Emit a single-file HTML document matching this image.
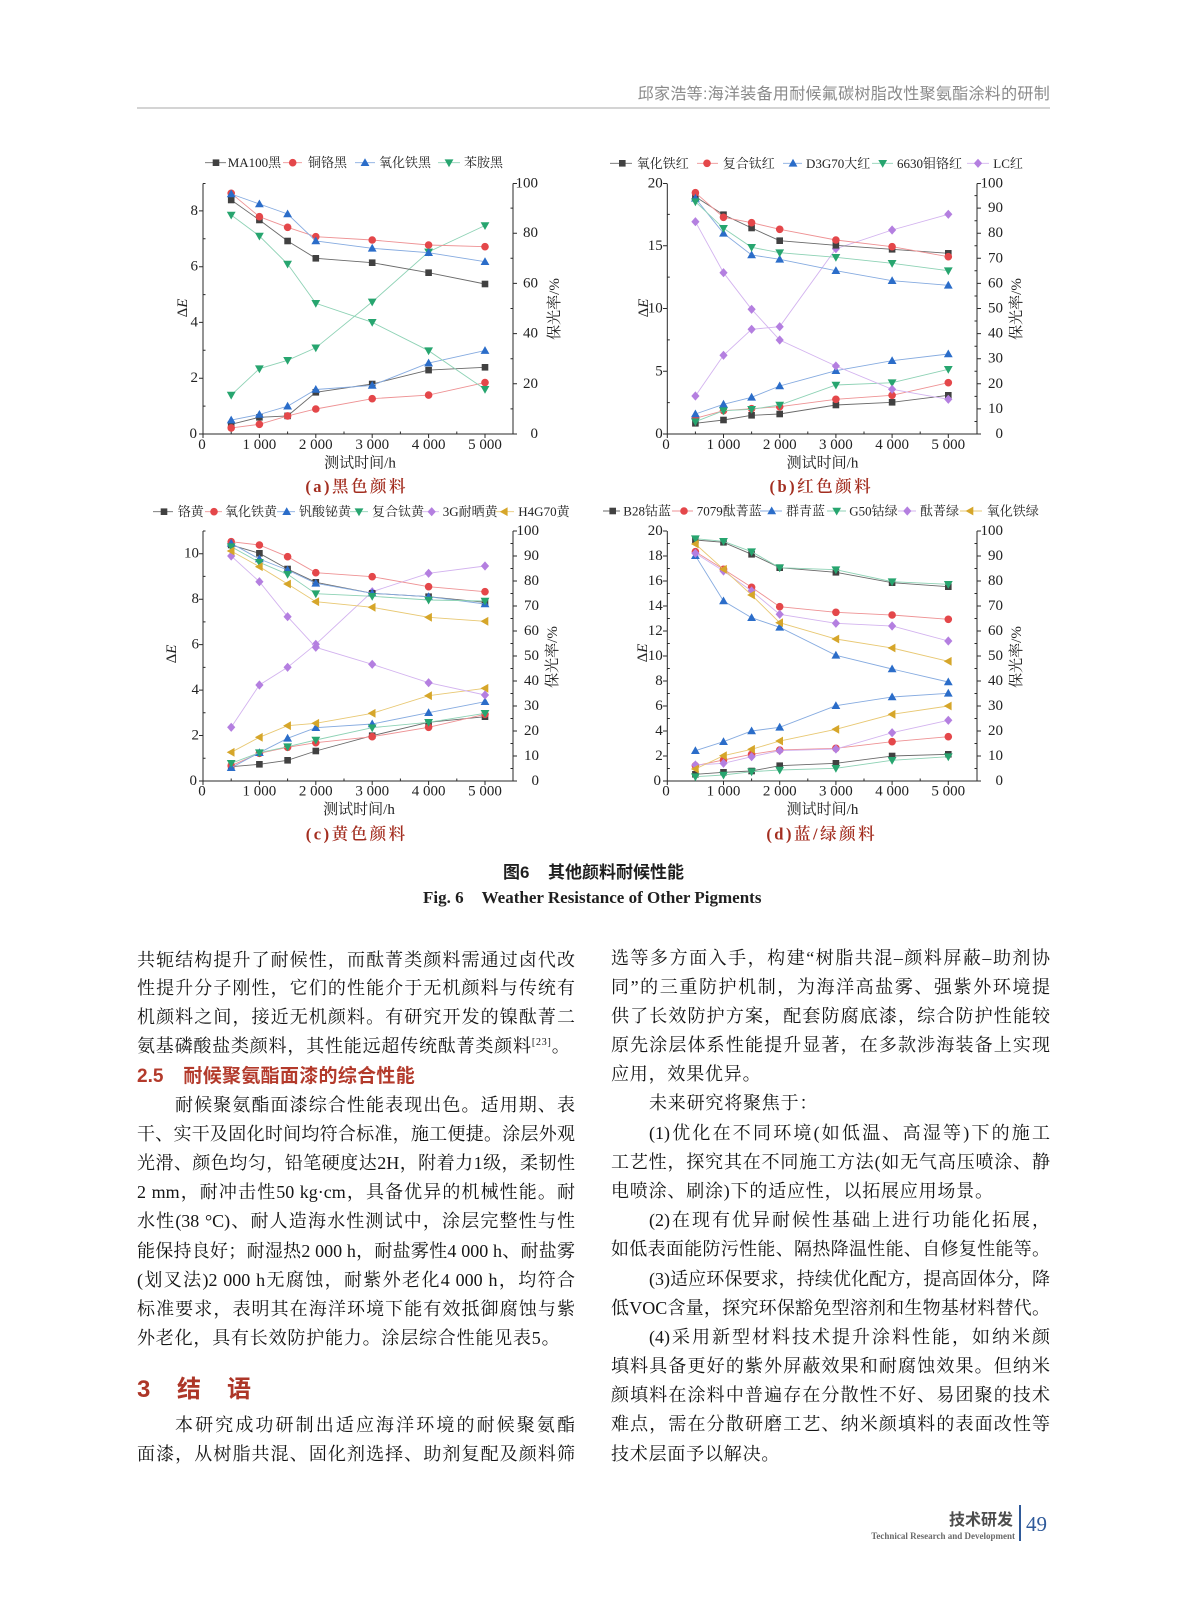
<!DOCTYPE html>
<html><head><meta charset="utf-8"><style>
html,body{margin:0;padding:0;background:#fff}
body{width:1187px;height:1600px;position:relative;overflow:hidden}
.hd{position:absolute;right:137px;top:83px;font-family:"Liberation Sans","Noto Sans CJK SC",sans-serif;font-size:16px;letter-spacing:0.3px;color:#8a8a8a;line-height:24px;white-space:nowrap}
.hl{position:absolute;left:137px;top:106.5px;width:913px;height:2px;background:#d4d4d4}
.t{position:absolute;font-family:"Liberation Serif","Noto Serif CJK SC",serif;font-size:18px;line-height:29px;height:29px;color:#141414}
.L{left:137px;width:438px}
.R{left:611px;width:439px}
.j{text-align:justify;text-align-last:justify}
.n{white-space:nowrap;letter-spacing:0.8px}
.ind{padding-left:38px;box-sizing:border-box}
.h25{position:absolute;left:137px;font-family:"Liberation Sans","Noto Sans CJK SC",sans-serif;font-weight:bold;font-size:19px;color:#b33a2b;line-height:29px;white-space:nowrap}
.h3{position:absolute;font-family:"Liberation Sans","Noto Sans CJK SC",sans-serif;font-weight:bold;font-size:24px;color:#ad3628;line-height:30px;white-space:nowrap}
.cap1{position:absolute;left:503px;top:861px;font-family:"Liberation Sans","Noto Sans CJK SC",sans-serif;font-weight:bold;font-size:17px;color:#1f1f1f;line-height:24px;white-space:nowrap}
.cap2{position:absolute;left:423px;top:886px;font-family:"Liberation Serif",serif;font-weight:bold;font-size:17px;color:#1f1f1f;line-height:24px;white-space:nowrap}
sup{font-size:10px;vertical-align:7px;line-height:0}
</style></head><body>

<div class="hd">邱家浩等:海洋装备用耐候氟碳树脂改性聚氨酯涂料的研制</div>
<div class="hl"></div>

<svg width="1187" height="860" style="position:absolute;left:0;top:0" xmlns="http://www.w3.org/2000/svg">
<defs>
<marker id="mK" viewBox="-5 -5 10 10" markerWidth="10" markerHeight="10" markerUnits="userSpaceOnUse" orient="0"><rect x="-3.3" y="-3.3" width="6.6" height="6.6" fill="#414141"/></marker>
<marker id="mR" viewBox="-5 -5 10 10" markerWidth="10" markerHeight="10" markerUnits="userSpaceOnUse" orient="0"><circle r="3.8" fill="#e4474a"/></marker>
<marker id="mB" viewBox="-5 -5 10 10" markerWidth="10" markerHeight="10" markerUnits="userSpaceOnUse" orient="0"><polygon points="0,-4.5 4.4,3.3 -4.4,3.3" fill="#2b6dc9"/></marker>
<marker id="mG" viewBox="-5 -5 10 10" markerWidth="10" markerHeight="10" markerUnits="userSpaceOnUse" orient="0"><polygon points="0,4.5 4.4,-3.3 -4.4,-3.3" fill="#27a56f"/></marker>
<marker id="mP" viewBox="-5 -5 10 10" markerWidth="10" markerHeight="10" markerUnits="userSpaceOnUse" orient="0"><polygon points="0,-4.6 4.1,0 0,4.6 -4.1,0" fill="#b47fe0"/></marker>
<marker id="mY" viewBox="-5 -5 10 10" markerWidth="10" markerHeight="10" markerUnits="userSpaceOnUse" orient="0"><polygon points="-4.5,0 3.3,-4.4 3.3,4.4" fill="#d6a62a"/></marker>
</defs>
<style>
polyline{fill:none;stroke-width:0.9}
.k{stroke:#6a6a6a;marker-start:url(#mK);marker-mid:url(#mK);marker-end:url(#mK)}
.r{stroke:#ee9294;marker-start:url(#mR);marker-mid:url(#mR);marker-end:url(#mR)}
.b{stroke:#86abe0;marker-start:url(#mB);marker-mid:url(#mB);marker-end:url(#mB)}
.g{stroke:#8ed2b5;marker-start:url(#mG);marker-mid:url(#mG);marker-end:url(#mG)}
.p{stroke:#d3b3ef;marker-start:url(#mP);marker-mid:url(#mP);marker-end:url(#mP)}
.y{stroke:#e8c873;marker-start:url(#mY);marker-mid:url(#mY);marker-end:url(#mY)}
.lg{marker-start:none;marker-end:none}
.ax{stroke:#2a2a2a;stroke-width:1;fill:none}
text{font-family:"Liberation Serif","Noto Serif CJK SC",serif;fill:#222}
.tk{font-size:15px;dominant-baseline:central}
.te{text-anchor:end}
.tm{text-anchor:middle}
.lt{font-size:13px;dominant-baseline:central}
.at{font-size:15px;dominant-baseline:central;text-anchor:middle}
.sub{font-size:16.5px;fill:#a32e20;font-weight:600;text-anchor:middle;dominant-baseline:central;letter-spacing:2.5px}
</style>

<!-- ===== Chart a ===== -->
<g>
<polyline class="k lg" points="205,162.7 216,162.7 226,162.7"/>
<text class="lt" x="227.7" y="162.7">MA100黑</text>
<polyline class="r lg" points="283,162.7 292.7,162.7 302,162.7"/>
<text class="lt" x="308" y="162.7">铜铬黑</text>
<polyline class="b lg" points="355,162.7 365,162.7 375,162.7"/>
<text class="lt" x="379" y="162.7">氧化铁黑</text>
<polyline class="g lg" points="438,162.7 449,162.7 460,162.7"/>
<text class="lt" x="464" y="162.7">苯胺黑</text>

<path class="ax" d="M203 183.5V434H513V183.5"/>
<path class="ax" d="M199 434h4M199 378.2h4M199 322.4h4M199 266.7h4M199 210.9h4M203 406.1h2.5M203 350.3h2.5M203 294.6h2.5M203 238.8h2.5M203 183.5h2.5M513 434h4M513 383.8h4M513 333.6h4M513 283.4h4M513 233.2h4M513 183.5h4M510.5 408.9h2.5M510.5 358.7h2.5M510.5 308.5h2.5M510.5 258.3h2.5M510.5 208.1h2.5M203 434v4M259.4 434v4M315.8 434v4M372.2 434v4M428.6 434v4M485 434v4M231.2 431.5v2.5M287.6 431.5v2.5M344 431.5v2.5M400.4 431.5v2.5M456.8 431.5v2.5"/>
<text class="tk te" x="197" y="434">0</text>
<text class="tk te" x="198" y="378.2">2</text>
<text class="tk te" x="198" y="322.4">4</text>
<text class="tk te" x="198" y="266.7">6</text>
<text class="tk te" x="198" y="210.9">8</text>
<text class="tk te" x="538" y="434">0</text>
<text class="tk te" x="538" y="383.8">20</text>
<text class="tk te" x="538" y="333.6">40</text>
<text class="tk te" x="538" y="283.4">60</text>
<text class="tk te" x="538" y="233.2">80</text>
<text class="tk te" x="538" y="183.5">100</text>
<text class="tk tm" x="202" y="445">0</text>
<text class="tk tm" x="259.4" y="445">1 000</text>
<text class="tk tm" x="315.8" y="445">2 000</text>
<text class="tk tm" x="372.2" y="445">3 000</text>
<text class="tk tm" x="428.6" y="445">4 000</text>
<text class="tk tm" x="485" y="445">5 000</text>
<text class="at" transform="translate(183,308) rotate(-90)" font-size="16">Δ<tspan font-style="italic">E</tspan></text>
<text class="at" transform="translate(555,309) rotate(-90)">保光率/%</text>
<text class="at" x="360" y="463.3">测试时间/h</text>
<text class="sub" x="356.7" y="486.7">(a)黑色颜料</text>

<polyline class="k" points="231.2,424.3 259.4,417.3 287.6,415.9 315.8,392.3 372.2,384 428.6,370.1 485,367.3"/>
<polyline class="r" points="231.2,427.9 259.4,424.3 287.6,415.9 315.8,409 372.2,398.7 428.6,395.1 485,382.6"/>
<polyline class="b" points="231.2,420.1 259.4,414.5 287.6,406.2 315.8,389.5 372.2,385.4 428.6,363.1 485,350.6"/>
<polyline class="g" points="231.2,395.1 259.4,368.7 287.6,360.3 315.8,347.8 372.2,301.9 428.6,251.9 485,225.5"/>
<polyline class="k" points="231.2,200 259.4,220 287.6,241 315.8,258.3 372.2,262.7 428.6,272.7 485,284"/>
<polyline class="r" points="231.2,193.3 259.4,216.7 287.6,227.3 315.8,236.7 372.2,240 428.6,245 485,246.7"/>
<polyline class="b" points="231.2,194 259.4,204 287.6,214 315.8,241 372.2,248.3 428.6,252.7 485,261.7"/>
<polyline class="g" points="231.2,215 259.4,236 287.6,264 315.8,303.3 372.2,322.3 428.6,350.7 485,389.3"/>
</g>

<!-- ===== Chart b ===== -->
<g>
<polyline class="k lg" points="610,163.3 622.3,163.3 632,163.3"/>
<text class="lt" x="636.7" y="163.3">氧化铁红</text>
<polyline class="r lg" points="697,163.3 707,163.3 718,163.3"/>
<text class="lt" x="722.7" y="163.3">复合钛红</text>
<polyline class="b lg" points="783,163.3 793,163.3 802,163.3"/>
<text class="lt" x="806" y="163.3">D3G70大红</text>
<polyline class="g lg" points="872,163.3 882.7,163.3 893,163.3"/>
<text class="lt" x="897" y="163.3">6630钼铬红</text>
<polyline class="p lg" points="967,163.3 978,163.3 989,163.3"/>
<text class="lt" x="993.3" y="163.3">LC红</text>

<path class="ax" d="M667.3 183.5V434H977V183.5"/>
<path class="ax" d="M663 434h4M663 371.3h4M663 308.5h4M663 245.8h4M663 183.5h4M667.3 402.6h2.5M667.3 339.9h2.5M667.3 277.1h2.5M667.3 214.4h2.5M977 434h4M977 408.9h4M977 383.8h4M977 358.7h4M977 333.6h4M977 308.5h4M977 283.4h4M977 258.3h4M977 233.2h4M977 208.1h4M977 183.5h4M974.5 421.5h2.5M974.5 396.4h2.5M974.5 371.3h2.5M974.5 346.2h2.5M974.5 321h2.5M974.5 296h2.5M974.5 270.8h2.5M974.5 245.8h2.5M974.5 220.7h2.5M974.5 195.6h2.5M667.3 434v4M723.5 434v4M779.7 434v4M835.9 434v4M892.1 434v4M948.3 434v4M695.4 431.5v2.5M751.6 431.5v2.5M807.8 431.5v2.5M864 431.5v2.5M920.2 431.5v2.5"/>
<text class="tk te" x="662.7" y="434">0</text>
<text class="tk te" x="662.7" y="371.3">5</text>
<text class="tk te" x="662.7" y="308.5">10</text>
<text class="tk te" x="662.7" y="245.8">15</text>
<text class="tk te" x="662.7" y="183.5">20</text>
<text class="tk te" x="1003" y="434">0</text>
<text class="tk te" x="1003" y="408.9">10</text>
<text class="tk te" x="1003" y="383.8">20</text>
<text class="tk te" x="1003" y="358.7">30</text>
<text class="tk te" x="1003" y="333.6">40</text>
<text class="tk te" x="1003" y="308.5">50</text>
<text class="tk te" x="1003" y="283.4">60</text>
<text class="tk te" x="1003" y="258.3">70</text>
<text class="tk te" x="1003" y="233.2">80</text>
<text class="tk te" x="1003" y="208.1">90</text>
<text class="tk te" x="1003" y="183.5">100</text>
<text class="tk tm" x="666" y="445">0</text>
<text class="tk tm" x="723.5" y="445">1 000</text>
<text class="tk tm" x="779.7" y="445">2 000</text>
<text class="tk tm" x="835.9" y="445">3 000</text>
<text class="tk tm" x="892.1" y="445">4 000</text>
<text class="tk tm" x="948.3" y="445">5 000</text>
<text class="at" transform="translate(644,308) rotate(-90)" font-size="16">Δ<tspan font-style="italic">E</tspan></text>
<text class="at" transform="translate(1017,309) rotate(-90)">保光率/%</text>
<text class="at" x="822.5" y="463.3">测试时间/h</text>
<text class="sub" x="821.3" y="486.7">(b)红色颜料</text>

<polyline class="k" points="695.4,423.3 723.5,420 751.6,415.3 779.7,414 835.9,405 892.1,402.3 948.3,395.3"/>
<polyline class="r" points="695.4,418.3 723.5,410.7 751.6,408.7 779.7,406.7 835.9,399.3 892.1,395.3 948.3,382.7"/>
<polyline class="b" points="695.4,414 723.5,404.3 751.6,397.3 779.7,386 835.9,370.7 892.1,360.7 948.3,354"/>
<polyline class="g" points="695.4,421.7 723.5,410.7 751.6,409.3 779.7,405 835.9,385 892.1,382.7 948.3,369.3"/>
<polyline class="p" points="695.4,396 723.5,355.3 751.6,329.3 779.7,326.7 835.9,248.7 892.1,230 948.3,214.3"/>
<polyline class="k" points="695.4,196.7 723.5,214.7 751.6,228 779.7,240.7 835.9,245.3 892.1,249.3 948.3,253.3"/>
<polyline class="r" points="695.4,192.7 723.5,217.3 751.6,222.7 779.7,229.3 835.9,240 892.1,246.7 948.3,256.7"/>
<polyline class="b" points="695.4,198.3 723.5,233.3 751.6,255 779.7,259.3 835.9,270.7 892.1,280.7 948.3,285.3"/>
<polyline class="g" points="695.4,201.7 723.5,228.3 751.6,247.3 779.7,252.7 835.9,257.3 892.1,263.3 948.3,270.7"/>
<polyline class="p" points="695.4,221.7 723.5,272.7 751.6,309.3 779.7,340 835.9,366 892.1,389.3 948.3,399.3"/>
</g>

<!-- ===== Chart c ===== -->
<g>
<polyline class="k lg" points="153,511.7 164,511.7 173,511.7"/>
<text class="lt" x="177.7" y="511.7">铬黄</text>
<polyline class="r lg" points="205,511.7 214,511.7 222,511.7"/>
<text class="lt" x="225" y="511.7">氧化铁黄</text>
<polyline class="b lg" points="277,511.7 286.7,511.7 295,511.7"/>
<text class="lt" x="299" y="511.7">钒酸铋黄</text>
<polyline class="g lg" points="350,511.7 359,511.7 368,511.7"/>
<text class="lt" x="372" y="511.7">复合钛黄</text>
<polyline class="p lg" points="422,511.7 431.7,511.7 439,511.7"/>
<text class="lt" x="442.7" y="511.7">3G耐晒黄</text>
<polyline class="y lg" points="495,511.7 504.3,511.7 514,511.7"/>
<text class="lt" x="518.3" y="511.7">H4G70黄</text>

<path class="ax" d="M203 531V781H513V531"/>
<path class="ax" d="M199 781h4M199 735.5h4M199 690.1h4M199 644.6h4M199 599.2h4M199 553.7h4M203 758.3h2.5M203 712.8h2.5M203 667.4h2.5M203 621.9h2.5M203 576.4h2.5M203 531h2.5M513 781h4M513 756h4M513 731h4M513 706h4M513 681h4M513 656h4M513 631h4M513 606h4M513 581h4M513 556h4M513 531h4M510.5 768.5h2.5M510.5 743.5h2.5M510.5 718.5h2.5M510.5 693.5h2.5M510.5 668.5h2.5M510.5 643.5h2.5M510.5 618.5h2.5M510.5 593.5h2.5M510.5 568.5h2.5M510.5 543.5h2.5M203 781v4M259.4 781v4M315.8 781v4M372.2 781v4M428.6 781v4M485 781v4M231.2 778.5v2.5M287.6 778.5v2.5M344 778.5v2.5M400.4 778.5v2.5M456.8 778.5v2.5"/>
<text class="tk te" x="197" y="781">0</text>
<text class="tk te" x="199" y="735.5">2</text>
<text class="tk te" x="199" y="690.1">4</text>
<text class="tk te" x="199" y="644.6">6</text>
<text class="tk te" x="199" y="599.2">8</text>
<text class="tk te" x="199" y="553.7">10</text>
<text class="tk te" x="539" y="781">0</text>
<text class="tk te" x="539" y="756">10</text>
<text class="tk te" x="539" y="731">20</text>
<text class="tk te" x="539" y="706">30</text>
<text class="tk te" x="539" y="681">40</text>
<text class="tk te" x="539" y="656">50</text>
<text class="tk te" x="539" y="631">60</text>
<text class="tk te" x="539" y="606">70</text>
<text class="tk te" x="539" y="581">80</text>
<text class="tk te" x="539" y="556">90</text>
<text class="tk te" x="539" y="531">100</text>
<text class="tk tm" x="202" y="791.7">0</text>
<text class="tk tm" x="259.4" y="791.7">1 000</text>
<text class="tk tm" x="315.8" y="791.7">2 000</text>
<text class="tk tm" x="372.2" y="791.7">3 000</text>
<text class="tk tm" x="428.6" y="791.7">4 000</text>
<text class="tk tm" x="485" y="791.7">5 000</text>
<text class="at" transform="translate(172,654) rotate(-90)" font-size="16">Δ<tspan font-style="italic">E</tspan></text>
<text class="at" transform="translate(553,657) rotate(-90)">保光率/%</text>
<text class="at" x="359" y="810">测试时间/h</text>
<text class="sub" x="356.7" y="834">(c)黄色颜料</text>

<polyline class="k" points="231.2,766.7 259.4,764.3 287.6,760.3 315.8,751 372.2,735.7 428.6,722.3 485,716.7"/>
<polyline class="r" points="231.2,765.7 259.4,753.3 287.6,747.3 315.8,742.7 372.2,736.7 428.6,727.3 485,714.3"/>
<polyline class="b" points="231.2,767.7 259.4,752.7 287.6,738.3 315.8,727.7 372.2,724 428.6,712.7 485,701.7"/>
<polyline class="g" points="231.2,763.3 259.4,752.7 287.6,746.7 315.8,740 372.2,727.7 428.6,722.3 485,713.3"/>
<polyline class="p" points="231.2,727.3 259.4,685 287.6,667.3 315.8,644.3 372.2,591.7 428.6,573.3 485,566"/>
<polyline class="y" points="231.2,752.3 259.4,737.3 287.6,725.7 315.8,723.3 372.2,713.3 428.6,695.7 485,688.3"/>
<polyline class="k" points="231.2,545 259.4,553.3 287.6,569 315.8,582.3 372.2,593.3 428.6,596.7 485,602.3"/>
<polyline class="r" points="231.2,541.7 259.4,545 287.6,556.7 315.8,572.7 372.2,576.7 428.6,586.7 485,591.7"/>
<polyline class="b" points="231.2,543.3 259.4,559 287.6,570 315.8,583.3 372.2,593.3 428.6,596.7 485,604"/>
<polyline class="g" points="231.2,546.7 259.4,562.3 287.6,574.3 315.8,593.7 372.2,596.3 428.6,600 485,601"/>
<polyline class="p" points="231.2,556 259.4,581.7 287.6,616.7 315.8,647.3 372.2,664.3 428.6,682.7 485,695"/>
<polyline class="y" points="231.2,551 259.4,566.7 287.6,584 315.8,601.7 372.2,607.3 428.6,617.3 485,621.3"/>
</g>

<!-- ===== Chart d ===== -->
<g>
<polyline class="k lg" points="603,511 612.7,511 620,511"/>
<text class="lt" x="623.3" y="511">B28钴蓝</text>
<polyline class="r lg" points="672,511 684,511 693,511"/>
<text class="lt" x="696.7" y="511">7079酞菁蓝</text>
<polyline class="b lg" points="760,511 771.7,511 782,511"/>
<text class="lt" x="786" y="511">群青蓝</text>
<polyline class="g lg" points="827,511 836.7,511 846,511"/>
<text class="lt" x="849.3" y="511">G50钴绿</text>
<polyline class="p lg" points="898,511 907.3,511 916,511"/>
<text class="lt" x="920" y="511">酞菁绿</text>
<polyline class="y lg" points="960,511 970,511 982,511"/>
<text class="lt" x="986.7" y="511">氧化铁绿</text>

<path class="ax" d="M667.3 531V781H977V531"/>
<path class="ax" d="M663 781h4M663 756h4M663 731h4M663 706h4M663 681h4M663 656h4M663 631h4M663 606h4M663 581h4M663 556h4M663 531h4M667.3 768.5h2.5M667.3 743.5h2.5M667.3 718.5h2.5M667.3 693.5h2.5M667.3 668.5h2.5M667.3 643.5h2.5M667.3 618.5h2.5M667.3 593.5h2.5M667.3 568.5h2.5M667.3 543.5h2.5M977 781h4M977 756h4M977 731h4M977 706h4M977 681h4M977 656h4M977 631h4M977 606h4M977 581h4M977 556h4M977 531h4M974.5 768.5h2.5M974.5 743.5h2.5M974.5 718.5h2.5M974.5 693.5h2.5M974.5 668.5h2.5M974.5 643.5h2.5M974.5 618.5h2.5M974.5 593.5h2.5M974.5 568.5h2.5M974.5 543.5h2.5M667.3 781v4M723.5 781v4M779.7 781v4M835.9 781v4M892.1 781v4M948.3 781v4M695.4 778.5v2.5M751.6 778.5v2.5M807.8 778.5v2.5M864 778.5v2.5M920.2 778.5v2.5"/>
<text class="tk te" x="661" y="781">0</text>
<text class="tk te" x="662.7" y="756">2</text>
<text class="tk te" x="662.7" y="731">4</text>
<text class="tk te" x="662.7" y="706">6</text>
<text class="tk te" x="662.7" y="681">8</text>
<text class="tk te" x="662.7" y="656">10</text>
<text class="tk te" x="662.7" y="631">12</text>
<text class="tk te" x="662.7" y="606">14</text>
<text class="tk te" x="662.7" y="581">16</text>
<text class="tk te" x="662.7" y="556">18</text>
<text class="tk te" x="662.7" y="531">20</text>
<text class="tk te" x="1003" y="781">0</text>
<text class="tk te" x="1003" y="756">10</text>
<text class="tk te" x="1003" y="731">20</text>
<text class="tk te" x="1003" y="706">30</text>
<text class="tk te" x="1003" y="681">40</text>
<text class="tk te" x="1003" y="656">50</text>
<text class="tk te" x="1003" y="631">60</text>
<text class="tk te" x="1003" y="606">70</text>
<text class="tk te" x="1003" y="581">80</text>
<text class="tk te" x="1003" y="556">90</text>
<text class="tk te" x="1003" y="531">100</text>
<text class="tk tm" x="666" y="791.7">0</text>
<text class="tk tm" x="723.5" y="791.7">1 000</text>
<text class="tk tm" x="779.7" y="791.7">2 000</text>
<text class="tk tm" x="835.9" y="791.7">3 000</text>
<text class="tk tm" x="892.1" y="791.7">4 000</text>
<text class="tk tm" x="948.3" y="791.7">5 000</text>
<text class="at" transform="translate(643,653) rotate(-90)" font-size="16">Δ<tspan font-style="italic">E</tspan></text>
<text class="at" transform="translate(1017,657) rotate(-90)">保光率/%</text>
<text class="at" x="822.5" y="810">测试时间/h</text>
<text class="sub" x="821.7" y="834">(d)蓝/绿颜料</text>

<polyline class="k" points="695.4,774.3 723.5,772.3 751.6,771 779.7,765.7 835.9,763.3 892.1,756 948.3,754.3"/>
<polyline class="r" points="695.4,765.7 723.5,760 751.6,754.3 779.7,750 835.9,748.3 892.1,741.7 948.3,736.7"/>
<polyline class="b" points="695.4,750.7 723.5,741.7 751.6,731 779.7,727.3 835.9,705.7 892.1,697 948.3,693.3"/>
<polyline class="g" points="695.4,776.7 723.5,775 751.6,771.7 779.7,770 835.9,768.3 892.1,760.3 948.3,756.7"/>
<polyline class="p" points="695.4,765 723.5,763.3 751.6,756.7 779.7,750.7 835.9,749 892.1,732.7 948.3,720.3"/>
<polyline class="y" points="695.4,769 723.5,755.7 751.6,749.3 779.7,741 835.9,729.3 892.1,714.3 948.3,706"/>
<polyline class="k" points="695.4,540 723.5,542.3 751.6,554.3 779.7,567.7 835.9,572.3 892.1,582.7 948.3,586.7"/>
<polyline class="r" points="695.4,551.7 723.5,569.3 751.6,587.3 779.7,606.7 835.9,612.3 892.1,615 948.3,619.3"/>
<polyline class="b" points="695.4,555.7 723.5,601 751.6,617.7 779.7,627.3 835.9,655.3 892.1,669 948.3,682"/>
<polyline class="g" points="695.4,538.7 723.5,541.3 751.6,551.7 779.7,567.7 835.9,569.7 892.1,581.7 948.3,584.3"/>
<polyline class="p" points="695.4,553.3 723.5,571 751.6,591 779.7,614.3 835.9,623.3 892.1,626 948.3,641"/>
<polyline class="y" points="695.4,544 723.5,569.3 751.6,595 779.7,622.7 835.9,639 892.1,648 948.3,661.3"/>
</g>
</svg>

<div class="cap1">图6<span style="display:inline-block;width:18.5px"></span>其他颜料耐候性能</div>
<div class="cap2">Fig. 6<span style="display:inline-block;width:18px"></span>Weather Resistance of Other Pigments</div>

<!-- Left column -->
<div class="t L j" style="top:945.5px">共轭结构提升了耐候性，而酞菁类颜料需通过卤代改</div>
<div class="t L j" style="top:974px">性提升分子刚性，它们的性能介于无机颜料与传统有</div>
<div class="t L j" style="top:1002.5px">机颜料之间，接近无机颜料。有研究开发的镍酞菁二</div>
<div class="t L n" style="top:1031.5px">氨基磷酸盐类颜料，其性能远超传统酞菁类颜料<sup>[23]</sup>。</div>
<div class="h25" style="top:1061.5px">2.5<span style="display:inline-block;width:20px"></span><span style="letter-spacing:0.3px">耐候聚氨酯面漆的综合性能</span></div>
<div class="t L j ind" style="top:1090.5px">耐候聚氨酯面漆综合性能表现出色。适用期、表</div>
<div class="t L j" style="top:1119.7px">干、实干及固化时间均符合标准，施工便捷。涂层外观</div>
<div class="t L j" style="top:1148.9px">光滑、颜色均匀，铅笔硬度达2H，附着力1级，柔韧性</div>
<div class="t L j" style="top:1178.1px">2 mm，耐冲击性50 kg·cm，具备优异的机械性能。耐</div>
<div class="t L j" style="top:1207.3px">水性(38 °C)、耐人造海水性测试中，涂层完整性与性</div>
<div class="t L j" style="top:1236.5px">能保持良好；耐湿热2 000 h，耐盐雾性4 000 h、耐盐雾</div>
<div class="t L j" style="top:1265.7px">(划叉法)2 000 h无腐蚀，耐紫外老化4 000 h，均符合</div>
<div class="t L j" style="top:1294.9px">标准要求，表明其在海洋环境下能有效抵御腐蚀与紫</div>
<div class="t L n" style="top:1324.1px">外老化，具有长效防护能力。涂层综合性能见表5。</div>
<div class="h3" style="left:137px;top:1375px">3</div>
<div class="h3" style="left:177px;top:1375px">结</div>
<div class="h3" style="left:227px;top:1375px">语</div>
<div class="t L j ind" style="top:1410.5px">本研究成功研制出适应海洋环境的耐候聚氨酯</div>
<div class="t L j" style="top:1439.5px">面漆，从树脂共混、固化剂选择、助剂复配及颜料筛</div>

<!-- Right column -->
<div class="t R j" style="top:943.5px">选等多方面入手，构建“树脂共混–颜料屏蔽–助剂协</div>
<div class="t R j" style="top:972.7px">同”的三重防护机制，为海洋高盐雾、强紫外环境提</div>
<div class="t R j" style="top:1001.9px">供了长效防护方案，配套防腐底漆，综合防护性能较</div>
<div class="t R j" style="top:1031px">原先涂层体系性能提升显著，在多款涉海装备上实现</div>
<div class="t R n" style="top:1060.2px">应用，效果优异。</div>
<div class="t R n ind" style="top:1089.4px">未来研究将聚焦于：</div>
<div class="t R j ind" style="top:1118.6px">(1)优化在不同环境(如低温、高湿等)下的施工</div>
<div class="t R j" style="top:1147.8px">工艺性，探究其在不同施工方法(如无气高压喷涂、静</div>
<div class="t R n" style="top:1176.9px">电喷涂、刷涂)下的适应性，以拓展应用场景。</div>
<div class="t R j ind" style="top:1206.1px">(2)在现有优异耐候性基础上进行功能化拓展，</div>
<div class="t R j" style="top:1235.3px">如低表面能防污性能、隔热降温性能、自修复性能等。</div>
<div class="t R j ind" style="top:1264.5px">(3)适应环保要求，持续优化配方，提高固体分，降</div>
<div class="t R j" style="top:1293.7px">低VOC含量，探究环保豁免型溶剂和生物基材料替代。</div>
<div class="t R j ind" style="top:1322.8px">(4)采用新型材料技术提升涂料性能，如纳米颜</div>
<div class="t R j" style="top:1352px">填料具备更好的紫外屏蔽效果和耐腐蚀效果。但纳米</div>
<div class="t R j" style="top:1381.2px">颜填料在涂料中普遍存在分散性不好、易团聚的技术</div>
<div class="t R j" style="top:1410.4px">难点，需在分散研磨工艺、纳米颜填料的表面改性等</div>
<div class="t R n" style="top:1439.6px">技术层面予以解决。</div>

<!-- Footer -->
<div style="position:absolute;right:174px;top:1509px;font-family:'Liberation Sans','Noto Sans CJK SC',sans-serif;font-weight:bold;font-size:16px;line-height:24px;color:#4d4d4d;white-space:nowrap">技术研发</div>
<div style="position:absolute;left:1018.5px;top:1505px;width:2px;height:36px;background:#2f5a9a"></div>
<div style="position:absolute;left:1026px;top:1511px;font-family:'Liberation Serif',serif;font-size:21px;line-height:26px;color:#2f5a9a;white-space:nowrap">49</div>
<div style="position:absolute;right:172px;top:1531px;font-family:'Liberation Serif',serif;font-weight:bold;font-size:9px;line-height:11px;color:#6a6a6a;white-space:nowrap">Technical Research and Development</div>

</body></html>
